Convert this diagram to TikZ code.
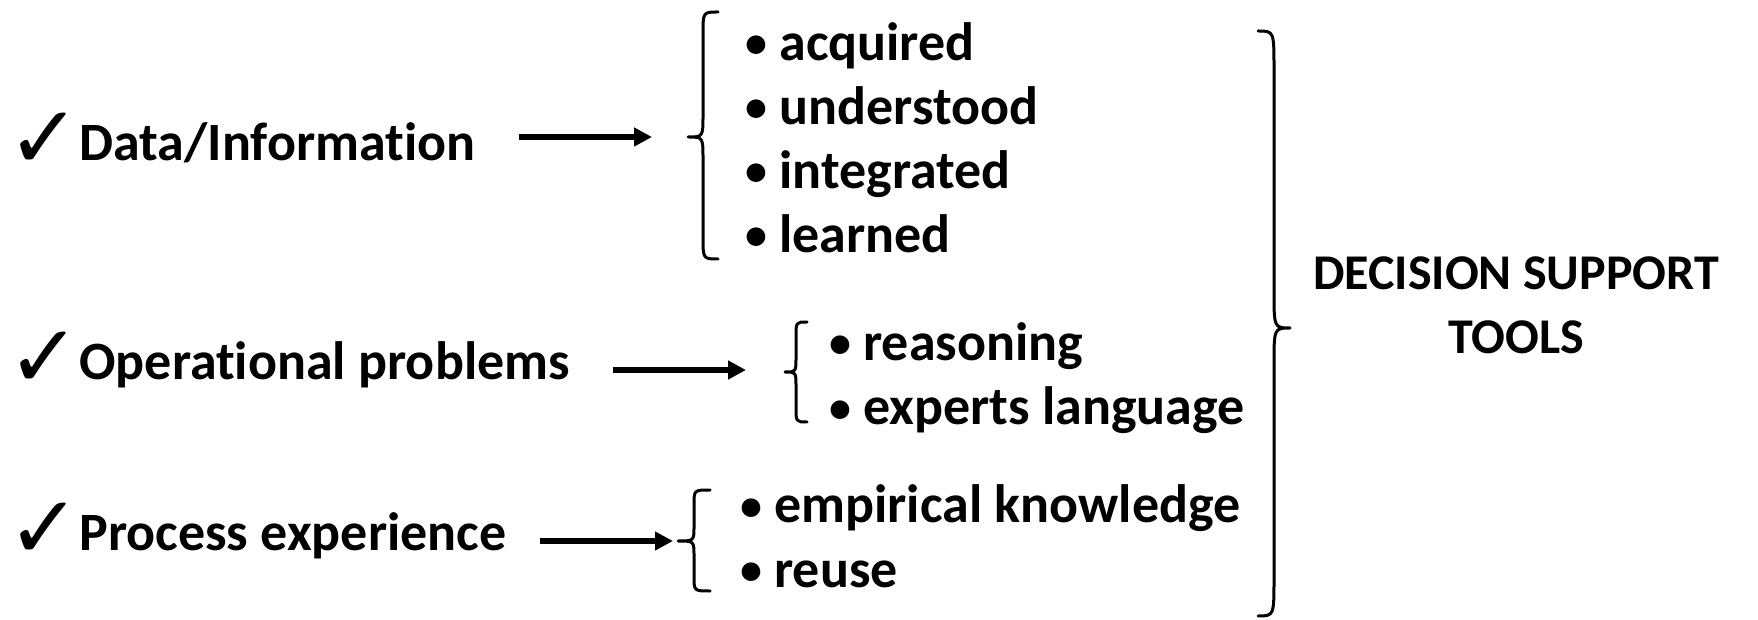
\documentclass[tikz,border=0pt]{standalone}
\usepackage{fontspec}
\setmainfont{Carlito}[Ligatures={TeX,NoCommon,NoContextual}]
\newfontfamily\djv{DejaVu Sans}
\usetikzlibrary{arrows.meta}
\newcommand\bul{\makebox[17pt][l]{\raisebox{1.5pt}{\fontsize{22}{22}\selectfont •}}}
\begin{document}
\begin{tikzpicture}[x=0.5pt,y=-0.5pt,
  lab/.style={inner sep=0pt, anchor=base west, font=\fontsize{27}{32}\selectfont\bfseries},
  chk/.style={inner sep=0pt, anchor=base west, font=\djv\fontsize{44}{50}\selectfont},
  arr/.style={line width=2.6pt, -{Triangle[length=9pt,width=9pt]}},
  brc/.style={line width=1.5pt, line join=round, line cap=round}]
\useasboundingbox (0,0) rectangle (1758,620);

% row 1
\node[chk] (c1) at (7,169) {✓};
\node[lab] (l1) at (79,161) {Data/Information};
\coordinate (a1s) at (519,137);
\coordinate (a1e) at (652,137);
\draw[arr] (a1s) -- (a1e);
\draw[brc] (718,12) .. controls (703,12) .. (703,34) -- (703,115) .. controls (703,137) .. (688,137) .. controls (703,137) .. (703,159) -- (703,237) .. controls (703,259) .. (718,259);
\node[lab] (i11) at (745,61) {\bul acquired};
\node[lab] (i12) at (745,125) {\bul understood};
\node[lab] (i13) at (745,189) {\bul integrated};
\node[lab] (i14) at (745,253) {\bul learned};

% row 2
\node[chk] (c2) at (7,388) {✓};
\node[lab] (l2) at (79,380) {Operational problems};
\coordinate (a2s) at (613,370);
\coordinate (a2e) at (746,370);
\draw[arr] (a2s) -- (a2e);
\draw[brc] (807,322) .. controls (796,322) .. (796,337) -- (796,357) .. controls (796,372) .. (785,372) .. controls (796,372) .. (796,387) -- (796,407) .. controls (796,422) .. (807,422);
\node[lab] (i21) at (829,361) {\bul reasoning};
\node[lab] (i22) at (829,425) {\bul experts language};

% row 3
\node[chk] (c3) at (7,558) {✓};
\node[lab] (l3) at (79,550) {Process experience};
\coordinate (a3s) at (540,541);
\coordinate (a3e) at (673,541);
\draw[arr] (a3s) -- (a3e);
\draw[brc] (710,490) .. controls (694,490) .. (694,505) -- (694,526) .. controls (694,541) .. (678,541) .. controls (694,541) .. (694,556) -- (694,576) .. controls (694,591) .. (710,591);
\node[lab] (i31) at (740,523) {\bul empirical knowledge};
\node[lab] (i32) at (740,587) {\bul reuse};

% big brace and result
\draw[brc] (1258,31) .. controls (1274,31) .. (1274,69) -- (1274,290) .. controls (1274,328) .. (1290,328) .. controls (1274,328) .. (1274,366) -- (1274,578) .. controls (1274,616) .. (1258,616);
\node[lab, anchor=center, align=center, font=\fontsize{25}{32}\selectfont\bfseries] (dss) at (1516,305) {DECISION SUPPORT\\TOOLS};
\end{tikzpicture}
\end{document}
